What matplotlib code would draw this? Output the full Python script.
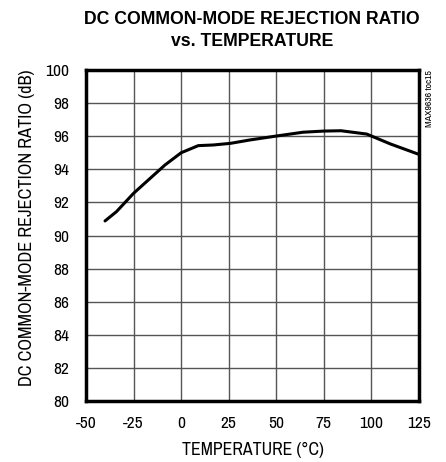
import matplotlib
matplotlib.use("Agg")
import matplotlib.pyplot as plt

FAM = ['Liberation Sans Narrow', 'Archivo Narrow', 'Liberation Sans', 'DejaVu Sans']
plt.rcParams['font.family'] = FAM
plt.rcParams['axes.unicode_minus'] = False

temp = [-40, -34, -25, -8.5, 0, 9, 17, 26, 36, 50, 64, 75, 84, 97.5, 110, 125]
cmrr = [90.88, 91.44, 92.55, 94.26, 95.0, 95.43, 95.47, 95.57, 95.77, 96.01, 96.24, 96.31, 96.33, 96.13, 95.53, 94.9]

xticks = [-50, -25, 0, 25, 50, 75, 100, 125]
yticks = [80, 82, 84, 86, 88, 90, 92, 94, 96, 98, 100]

fig = plt.figure(figsize=(4.46, 4.62), dpi=100)
ax = fig.add_axes([86/446, 1-401/462, 333/446, 331/462])
ax.plot(temp, cmrr, color='black', lw=2.2, solid_capstyle='round')
ax.set_xlim(-50, 125)
ax.set_ylim(80, 100)
ax.set_xticks(xticks)
ax.set_yticks(yticks)
ax.set_xticklabels([str(v) for v in xticks])
ax.set_yticklabels([str(v) for v in yticks])
ax.grid(True, color='#555555', lw=1)
ax.tick_params(axis='x', length=0, labelsize=12.5, pad=11)
ax.tick_params(axis='y', length=0, labelsize=12.5, pad=12)
for s in ax.spines.values():
    s.set_linewidth(2.5)
ax.set_xlabel('TEMPERATURE (°C)', fontsize=12.8)
ax.set_ylabel('DC COMMON-MODE REJECTION RATIO (dB)', fontsize=13.2)
ax.xaxis.set_label_coords(0.5, (401-442)/331)
ax.yaxis.set_label_coords((35-86)/333, (401-227.5)/331)
fig.text(252/446, 1-10.5/462, 'DC COMMON-MODE REJECTION RATIO\nvs. TEMPERATURE',
         ha='center', va='top', fontsize=12.7, fontweight='bold', linespacing=1.4,
         family=['Liberation Sans', 'DejaVu Sans'])
fig.text(430/446, 1-70/462, 'MAX9636 toc15', rotation=90, ha='center', va='top', fontsize=7)
fig.savefig('out.png', dpi=100)
